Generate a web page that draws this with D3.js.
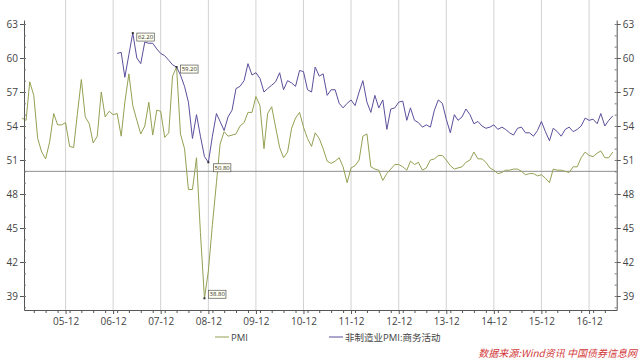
<!DOCTYPE html>
<html><head><meta charset="utf-8">
<script src="https://cdn.jsdelivr.net/npm/d3@7/dist/d3.min.js"></script>
<style>body{margin:0;background:#fff}svg{display:block}</style>
</head><body><svg id="c" width="640" height="360"></svg>
<script>
// ---------------- data ----------------
const pmiStart = "2005-01";
const pmi = [
  54.7, 54.5, 57.9, 56.7, 52.9, 51.7, 51.1, 52.6, 55.1, 54.1, 54.1, 54.3, // 2005
  52.2, 52.1, 55.0, 58.1, 54.8, 54.2, 52.5, 53.1, 57.0, 54.8, 55.3, 55.0, // 2006
  55.1, 53.1, 56.1, 58.6, 55.8, 54.5, 53.3, 54.0, 56.1, 53.2, 55.4, 55.3, // 2007
  53.0, 53.4, 58.4, 59.2, 53.3, 52.0, 48.4, 48.4, 51.2, 44.6, 38.8, 41.2, // 2008
  45.3, 49.0, 52.4, 53.5, 53.1, 53.2, 53.3, 54.0, 54.3, 55.2, 55.2, 56.6, // 2009
  55.8, 52.0, 55.1, 55.7, 53.9, 52.1, 51.2, 51.7, 53.8, 54.7, 55.2, 53.9, // 2010
  52.9, 52.2, 53.4, 52.9, 52.0, 50.9, 50.7, 50.9, 51.2, 50.4, 49.0, 50.3, // 2011
  50.5, 51.0, 53.1, 53.3, 50.4, 50.2, 50.1, 49.2, 49.8, 50.2, 50.6, 50.6, // 2012
  50.4, 50.1, 50.9, 50.6, 50.8, 50.1, 50.3, 51.0, 51.1, 51.4, 51.4, 51.0, // 2013
  50.5, 50.2, 50.3, 50.4, 50.8, 51.0, 51.7, 51.1, 51.1, 50.8, 50.3, 50.1, // 2014
  49.8, 49.9, 50.1, 50.1, 50.2, 50.2, 50.0, 49.7, 49.8, 49.8, 49.6, 49.7, // 2015
  49.4, 49.0, 50.2, 50.1, 50.1, 50.0, 49.9, 50.4, 50.4, 51.2, 51.7, 51.4, // 2016
  51.3, 51.6, 51.8, 51.2, 51.2, 51.7                                      // 2017
];
const nonMfgStart = "2007-01";
const nonMfg = [
  60.4, 60.5, 58.3, 60.3, 62.2, 60.0, 59.5, 61.4, 61.3, 61.3, 60.8, 60.4, // 2007
  60.2, 59.8, 59.4, 59.2, 58.5, 57.5, 56.1, 52.9, 55.0, 53.1, 51.3, 50.8, // 2008
  53.1, 55.1, 54.4, 53.6, 54.8, 55.4, 57.3, 57.5, 58.0, 59.5, 58.5, 58.7, // 2009
  58.2, 57.0, 57.3, 57.6, 57.9, 58.7, 57.2, 58.0, 57.8, 57.5, 58.9, 58.8, // 2010
  57.2, 57.0, 59.2, 58.4, 58.6, 56.7, 57.2, 57.2, 56.0, 55.6, 56.0, 56.3, // 2011
  55.8, 57.0, 58.0, 56.1, 55.2, 56.7, 55.6, 56.3, 53.7, 55.5, 55.6, 56.1, // 2012
  56.2, 54.5, 55.6, 54.5, 54.3, 53.9, 54.1, 53.9, 55.4, 56.3, 56.0, 54.6, // 2013
  53.4, 55.0, 54.5, 54.8, 55.5, 55.0, 54.2, 54.4, 54.0, 53.8, 53.9, 54.1, // 2014
  53.7, 53.9, 53.7, 53.4, 53.2, 53.8, 53.9, 53.4, 53.4, 53.1, 53.6, 54.4, // 2015
  53.5, 52.7, 53.8, 53.5, 53.1, 53.7, 53.9, 53.5, 53.7, 54.0, 54.7, 54.5, // 2016
  54.6, 54.2, 55.1, 54.0, 54.5, 54.9                                      // 2017
];
const xTickLabels = ["05-12","06-12","07-12","08-12","09-12","10-12","11-12","12-12","13-12","14-12","15-12","16-12"];
const yTicks = [39, 42, 45, 48, 51, 54, 57, 60, 63];
const refValue = 50;
const seriesNames = ["PMI", "非制造业PMI:商务活动"];
const sourceText = "数据来源:Wind资讯 中国债券信息网";

// ---------------- setup ----------------
const svg = d3.select("#c");
const W = 640, H = 360;
const L = 24, R = 616.7, T = 20, B = 310;
const font = "'Open Sans','Noto Sans CJK SC',sans-serif";
const cPMI = "#93a152", cNon = "#5b4f9c";

const pm = d3.timeParse("%Y-%m");
const toSeries = (start, arr) => arr.map((v, i) => ({ date: d3.timeMonth.offset(pm(start), i), v }));
const sPMI = toSeries(pmiStart, pmi);
const sNon = toSeries(nonMfgStart, nonMfg);

const x = d3.scaleTime().domain([new Date(2005, 0, 16), new Date(2017, 6, 1)]).range([L, R]);
const y = d3.scaleLinear().domain([37.765, 63.353]).range([B, T]);

const tickDates = xTickLabels.map(s => d3.timeParse("%y-%m")(s));

// gridlines
svg.append("g").selectAll("line").data(tickDates).join("line")
  .attr("x1", d => x(d)).attr("x2", d => x(d))
  .attr("y1", 0).attr("y2", B)
  .attr("stroke", "#d2d2d2").attr("stroke-width", 1);

// reference line
svg.append("line")
  .attr("x1", L).attr("x2", R).attr("y1", y(refValue)).attr("y2", y(refValue))
  .attr("stroke", "#8f8f8f").attr("stroke-width", 1);

// lines
const line = d3.line().x(d => x(d.date)).y(d => y(d.v));
svg.append("path").datum(sPMI).attr("d", line).attr("fill", "none")
  .attr("stroke", cPMI).attr("stroke-width", 1);
svg.append("path").datum(sNon).attr("d", line).attr("fill", "none")
  .attr("stroke", cNon).attr("stroke-width", 1);

// axes
function styleAxis(g) {
  g.selectAll("path.domain").attr("stroke", "#555");
  g.selectAll(".tick line").attr("stroke", "#555");
  g.selectAll("text").attr("fill", "#444").style("font-family", font).style("font-size", "10px");
}
const minorY = d3.range(38, 64);
svg.append("g").attr("transform", `translate(${L},0)`)
  .call(d3.axisLeft(y).tickValues(yTicks).tickSize(4).tickSizeOuter(0).tickPadding(2))
  .call(styleAxis);
svg.append("g").attr("transform", `translate(${L},0)`)
  .call(d3.axisLeft(y).tickValues(minorY).tickSize(-2).tickSizeOuter(0).tickFormat(""))
  .call(g => { g.select(".domain").remove(); g.selectAll("line").attr("stroke", "#777"); });
svg.append("g").attr("transform", `translate(${R},0)`)
  .call(d3.axisRight(y).tickValues(yTicks).tickSize(4).tickSizeOuter(0).tickPadding(2))
  .call(styleAxis);
svg.append("g").attr("transform", `translate(${R},0)`)
  .call(d3.axisRight(y).tickValues(minorY).tickSize(-2).tickSizeOuter(0).tickFormat(""))
  .call(g => { g.select(".domain").remove(); g.selectAll("line").attr("stroke", "#777"); });

const minorX = d3.timeMonth.every(3).range(new Date(2005, 2, 1), new Date(2017, 6, 1));
svg.append("g").attr("transform", `translate(0,${B})`)
  .call(d3.axisBottom(x).tickValues(minorX).tickSize(3).tickSizeOuter(0).tickFormat(""))
  .call(styleAxis);
svg.append("g").attr("transform", `translate(0,${B})`)
  .call(d3.axisBottom(x).tickValues(tickDates).tickSize(4).tickSizeOuter(0).tickPadding(4)
        .tickFormat((d, i) => xTickLabels[i]))
  .call(styleAxis).call(g => g.select(".domain").remove());

// max / min annotations
const annos = [
  { s: sNon, f: d3.greatest, dx: 4, dy: 0 },
  { s: sPMI, f: d3.greatest, dx: 4, dy: -2 },
  { s: sNon, f: d3.least, dx: 5, dy: 1.5 },
  { s: sPMI, f: d3.least, dx: 4, dy: -8 }
];
annos.forEach(a => {
  const p = a.f(a.s, d => d.v);
  const px = x(p.date), py = y(p.v);
  svg.append("rect").attr("x", px - 1).attr("y", py - 1).attr("width", 2).attr("height", 2).attr("fill", "#333");
  const g = svg.append("g").attr("transform", `translate(${px + a.dx},${py + a.dy})`);
  g.append("rect").attr("width", 17.5).attr("height", 8).attr("fill", "#fffff0")
    .attr("stroke", "#555").attr("stroke-width", 0.7);
  g.append("text").attr("x", 8.75).attr("y", 6.2).attr("text-anchor", "middle")
    .style("font-family", font).style("font-size", "6px").attr("fill", "#333")
    .text(p.v.toFixed(2));
});

// legend
const leg = [
  { name: seriesNames[0], c: cPMI, x0: 215 },
  { name: seriesNames[1], c: cNon, x0: 329 }
];
leg.forEach(l => {
  svg.append("line").attr("x1", l.x0).attr("x2", l.x0 + 14).attr("y1", 337).attr("y2", 337)
    .attr("stroke", l.c).attr("stroke-width", 1);
  svg.append("text").attr("x", l.x0 + 16).attr("y", 340.5)
    .style("font-family", font).style("font-size", "9.5px").attr("fill", "#444").text(l.name);
});

// source
svg.append("text").attr("x", 637).attr("y", 357).attr("text-anchor", "end")
  .style("font-family", "'Noto Sans CJK SC',sans-serif").style("font-size", "10px")
  .style("font-style", "italic").attr("fill", "#d23a3a").text(sourceText);
</script></body></html>
